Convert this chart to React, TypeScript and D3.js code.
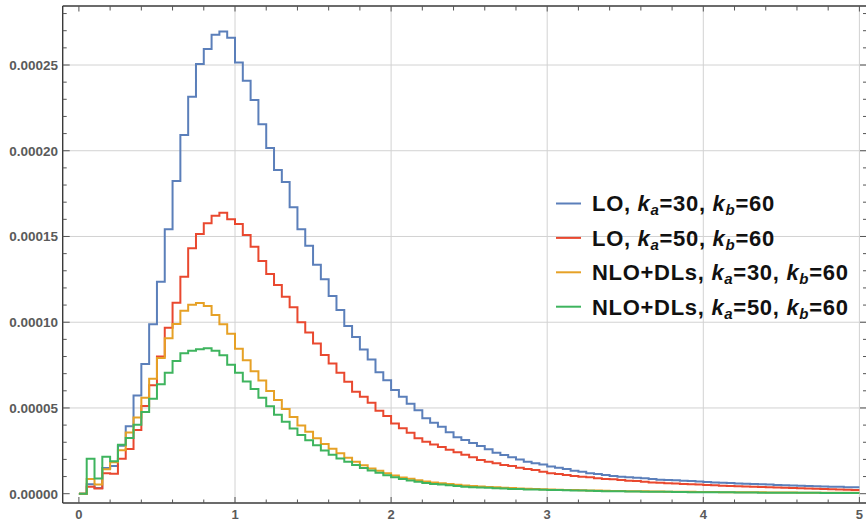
import React from 'react';
import * as d3 from 'd3';

// bin starts (width 0.05) from 0 to 4.95
const binStarts: number[] = d3.range(100).map((i) => +(i * 0.05).toFixed(2));
const binEnd = 5;
const unit = 1e-5;

// values in units of 1e-5
const loKa30 = [
  0, 0.55, 0.33, 1.5, 1.62, 2.8, 3.94, 5.72, 7.56, 9.88,
  12.36, 15.42, 18.23, 20.92, 23.15, 25.06, 25.93, 26.76, 26.96, 26.59,
  25.15, 24.08, 22.96, 21.54, 20.16, 18.87, 18.17, 16.7, 15.42, 14.46,
  13.35, 12.5, 11.53, 10.71, 9.78, 9.14, 8.41, 7.82, 7.08, 6.61,
  6.05, 5.66, 5.25, 4.86, 4.4, 4.14, 3.91, 3.58, 3.29, 3.13,
  2.95, 2.78, 2.59, 2.39, 2.26, 2.12, 2.0, 1.87, 1.77, 1.71,
  1.58, 1.52, 1.44, 1.34, 1.28, 1.19, 1.15, 1.09, 1.03, 0.99,
  0.96, 0.93, 0.9, 0.86, 0.82, 0.8, 0.78, 0.76, 0.74, 0.71,
  0.68, 0.66, 0.64, 0.62, 0.6, 0.58, 0.56, 0.55, 0.53, 0.51,
  0.49, 0.48, 0.46, 0.45, 0.44, 0.42, 0.41, 0.4, 0.38, 0.37,
];
const loKa50 = [
  0, 0.41, 0.31, 1.19, 1.16, 2.04, 2.6, 3.71, 5.11, 6.32,
  8.0, 9.68, 11.14, 12.65, 14.31, 15.14, 15.77, 16.21, 16.39, 16.0,
  15.73, 15.08, 14.4, 13.57, 12.81, 12.17, 11.49, 10.87, 10.0, 9.4,
  8.76, 8.09, 7.6, 7.06, 6.53, 5.95, 5.66, 5.31, 4.84, 4.53,
  4.1, 3.81, 3.56, 3.23, 3.03, 2.87, 2.72, 2.56, 2.42, 2.27,
  2.12, 1.97, 1.87, 1.77, 1.67, 1.62, 1.52, 1.44, 1.38, 1.28,
  1.19, 1.15, 1.09, 1.03, 0.99, 0.96, 0.9, 0.86, 0.84, 0.8,
  0.76, 0.74, 0.7, 0.66, 0.64, 0.61, 0.59, 0.57, 0.55, 0.53,
  0.51, 0.49, 0.47, 0.45, 0.44, 0.42, 0.41, 0.39, 0.37, 0.36,
  0.35, 0.33, 0.32, 0.3, 0.29, 0.27, 0.26, 0.24, 0.23, 0.21,
];
const nloKa30 = [
  0, 0.86, 0.54, 1.43, 1.83, 2.54, 3.57, 4.45, 5.6, 6.71,
  7.91, 9.06, 9.9, 10.67, 11.02, 11.12, 10.95, 10.42, 9.88, 9.33,
  8.46, 7.78, 7.14, 6.6, 5.99, 5.46, 4.94, 4.47, 3.97, 3.61,
  3.23, 2.9, 2.62, 2.36, 2.1, 1.87, 1.66, 1.47, 1.34, 1.19,
  1.06, 0.95, 0.87, 0.79, 0.71, 0.66, 0.61, 0.57, 0.52, 0.48,
  0.45, 0.42, 0.39, 0.37, 0.35, 0.33, 0.31, 0.29, 0.27, 0.26,
  0.24, 0.23, 0.22, 0.21, 0.2, 0.19, 0.18, 0.17, 0.16, 0.16,
  0.15, 0.14, 0.14, 0.13, 0.13, 0.12, 0.12, 0.11, 0.11, 0.1,
  0.1, 0.1, 0.09, 0.09, 0.09, 0.08, 0.08, 0.08, 0.07, 0.07,
  0.07, 0.07, 0.06, 0.06, 0.06, 0.06, 0.05, 0.05, 0.05, 0.05,
];
const nloKa50 = [
  0, 2.04, 0.88, 2.16, 1.89, 2.86, 3.25, 4.02, 4.76, 5.54,
  6.38, 7.06, 7.74, 8.19, 8.34, 8.42, 8.48, 8.34, 8.07, 7.52,
  7.05, 6.55, 6.1, 5.6, 5.1, 4.6, 4.2, 3.8, 3.42, 3.12,
  2.82, 2.52, 2.27, 2.06, 1.87, 1.68, 1.5, 1.35, 1.22, 1.08,
  0.96, 0.86, 0.77, 0.69, 0.62, 0.57, 0.53, 0.49, 0.45, 0.41,
  0.38, 0.36, 0.34, 0.32, 0.3, 0.28, 0.27, 0.25, 0.24, 0.23,
  0.22, 0.21, 0.2, 0.19, 0.18, 0.17, 0.16, 0.15, 0.15, 0.14,
  0.13, 0.13, 0.12, 0.12, 0.11, 0.11, 0.1, 0.1, 0.09, 0.09,
  0.09, 0.08, 0.08, 0.08, 0.07, 0.07, 0.07, 0.06, 0.06, 0.06,
  0.06, 0.05, 0.05, 0.05, 0.05, 0.04, 0.04, 0.04, 0.04, 0.04,
];

const seriesNames = ['LO', 'LO', 'NLO+DLs', 'NLO+DLs'];
const seriesKa = ['30', '50', '30', '50'];
const seriesKb = ['60', '60', '60', '60'];
const seriesColors = ['#5b7fba', '#e9482f', '#e6a126', '#3eb45e'];
const seriesValues = [loKa30, loKa50, nloKa30, nloKa50];

const xTickLabels = [0, 1, 2, 3, 4, 5];
const yTickLabels = [0, 0.00005, 0.0001, 0.00015, 0.0002, 0.00025];

const W = 866;
const H = 521;

export default function App() {
  const x = d3.scaleLinear().domain([0, 5]).range([78.9, 859.4]);
  const y = d3.scaleLinear().domain([0, 0.00025]).range([493.7, 65]);

  const left = 62.7;
  const right = 867;
  const top = 6;
  const bottom = 503;

  const line = d3
    .line<[number, number]>()
    .x((d) => x(d[0]))
    .y((d) => y(d[1]))
    .curve(d3.curveStepAfter);

  const paths = seriesValues.map((vals) => {
    const pts: [number, number][] = binStarts.map((b, i) => [b, vals[i] * unit]);
    pts.push([binEnd, vals[vals.length - 1] * unit]);
    return line(pts) as string;
  });

  const xMinor = d3.range(0, 26).map((i) => +(i * 0.2).toFixed(2));
  const yMinor = d3.range(0, 29).map((i) => +(i * 0.00001).toFixed(6));

  const axisColor = '#3a3a3a';
  const tickColor = '#555';
  const gridColor = '#d2d2d2';
  const labelColor = '#5a5a5a';

  const legendX0 = 556;
  const legendX1 = 581;
  const legendTextX = 592;
  const legendY0 = 203.5;
  const legendDy = 34.4;

  return (
    <svg
      width={W}
      height={H}
      style={{ position: 'absolute', left: 0, top: 0, background: '#fff' }}
      fontFamily="'Liberation Sans', Arial, sans-serif"
    >
      <rect x={0} y={0} width={W} height={H} fill="#fff" />
      {/* grid lines */}
      {xTickLabels
        .filter((t) => t > 0)
        .map((t) => (
          <line key={'gx' + t} x1={x(t)} x2={x(t)} y1={top} y2={bottom} stroke={gridColor} strokeWidth={1} />
        ))}
      {yTickLabels
        .filter((t) => t > 0)
        .map((t) => (
          <line key={'gy' + t} x1={left} x2={right} y1={y(t)} y2={y(t)} stroke={gridColor} strokeWidth={1} />
        ))}

      {/* legend */}
      {seriesNames.map((n, i) => {
        const ly = legendY0 + i * legendDy;
        return (
          <g key={'lg' + i}>
            <line x1={legendX0} x2={legendX1} y1={ly} y2={ly} stroke={seriesColors[i]} strokeWidth={2} />
            <text x={legendTextX} y={ly + 7.8} fontSize={22} fontWeight="bold" fill="#111" letterSpacing={0.7}>
              {n + ', '}
              <tspan fontStyle="italic">k</tspan>
              <tspan fontStyle="italic" fontSize={15} dy={4}>a</tspan>
              <tspan dy={-4}>{'=' + seriesKa[i] + ', '}</tspan>
              <tspan fontStyle="italic">k</tspan>
              <tspan fontStyle="italic" fontSize={15} dy={4}>b</tspan>
              <tspan dy={-4}>{'=' + seriesKb[i]}</tspan>
            </text>
          </g>
        );
      })}

      {/* data */}
      {paths.map((d, i) => (
        <path key={'p' + i} d={d} fill="none" stroke={seriesColors[i]} strokeWidth={2} strokeLinejoin="miter" />
      ))}

      {/* frame */}
      <line x1={left} x2={right} y1={bottom} y2={bottom} stroke={axisColor} strokeWidth={1.4} />
      <line x1={left} x2={left} y1={top} y2={bottom} stroke={axisColor} strokeWidth={1.4} />
      <line x1={left} x2={right} y1={top} y2={top} stroke={axisColor} strokeWidth={1.4} />
      <line x1={right} x2={right} y1={top} y2={bottom} stroke={axisColor} strokeWidth={1.4} />

      {/* x ticks */}
      {xMinor.map((t) => {
        const major = Math.abs(t - Math.round(t)) < 1e-6;
        const len = major ? 6 : 3.5;
        return (
          <g key={'xt' + t}>
            <line x1={x(t)} x2={x(t)} y1={bottom} y2={bottom - len} stroke={tickColor} strokeWidth={1} />
            <line x1={x(t)} x2={x(t)} y1={top} y2={top + (major ? 5.5 : 4.5)} stroke={tickColor} strokeWidth={1} />
          </g>
        );
      })}
      {/* y ticks */}
      {yMinor.map((t, i) => {
        const major = i % 5 === 0;
        const len = major ? 7 : 4;
        return (
          <g key={'yt' + i}>
            <line x1={left} x2={left + len} y1={y(t)} y2={y(t)} stroke={tickColor} strokeWidth={1} />
            <line x1={right} x2={right - len} y1={y(t)} y2={y(t)} stroke={tickColor} strokeWidth={1} />
          </g>
        );
      })}

      {/* tick labels */}
      {xTickLabels.map((t) => (
        <text key={'xl' + t} x={x(t)} y={518.5} textAnchor="middle" fontSize={13} fontWeight="bold" fill={labelColor}>
          {String(t)}
        </text>
      ))}
      {yTickLabels.map((t) => (
        <text key={'yl' + t} x={58} y={y(t) + 5} textAnchor="end" fontSize={13.5} fontWeight="bold" fill={labelColor}>
          {d3.format('.5f')(t)}
        </text>
      ))}
    </svg>
  );
}
